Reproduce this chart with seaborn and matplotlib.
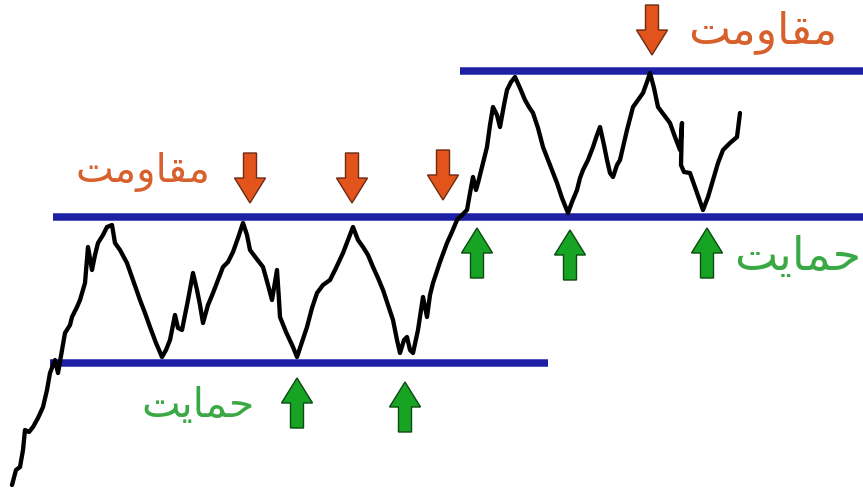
import matplotlib
matplotlib.use("Agg")
import matplotlib.pyplot as plt
import seaborn as sns
import pandas as pd

# Price path (time step, price) traced as a hand-drawn zigzag
time = [12, 16, 20, 23, 25, 29, 33, 38, 43, 47, 50, 55, 58, 62, 65, 70, 72, 77, 80, 85,
        88, 92, 95, 98, 103, 107, 112, 115, 120, 127, 133, 140, 145, 150, 156, 162, 166, 170, 175, 178,
        182, 188, 193, 197, 200, 203, 208, 213, 218, 223, 228, 233, 238, 243, 247, 250, 256, 263, 268, 272,
        277, 279, 280, 286, 293, 297, 302, 307, 312, 317, 323, 330, 336, 343, 348, 353, 358, 363, 368, 373,
        378, 383, 388, 393, 397, 400, 404, 407, 410, 413, 418, 423, 427, 430, 433, 440, 447, 452, 457, 462,
        467, 470, 473, 476, 478, 483, 487, 490, 493, 497, 500, 504, 507, 511, 515, 520, 525, 529, 533, 538,
        543, 550, 557, 562, 568, 572, 577, 580, 583, 588, 593, 597, 600, 604, 607, 610, 613, 617, 620, 627,
        633, 638, 643, 647, 650, 654, 658, 664, 670, 675, 680, 682, 681, 684, 690, 696, 703, 708, 713, 718,
        723, 730, 737, 740]
price = [7, 22, 25, 42, 62, 60, 65, 74, 85, 102, 119, 132, 119, 142, 159, 167, 175, 185, 192, 209,
         245, 222, 237, 249, 257, 265, 267, 249, 242, 229, 212, 192, 179, 165, 149, 135, 142, 152, 177, 164,
         162, 192, 219, 202, 187, 169, 187, 199, 212, 225, 230, 240, 254, 269, 257, 242, 234, 225, 207, 192,
         222, 192, 175, 160, 145, 135, 150, 165, 184, 199, 207, 212, 224, 239, 252, 265, 252, 245, 237, 225,
         214, 202, 187, 172, 152, 139, 152, 155, 142, 139, 162, 195, 175, 197, 209, 230, 249, 260, 272, 277,
         282, 299, 315, 302, 309, 329, 345, 367, 385, 377, 365, 387, 402, 410, 415, 404, 392, 385, 379, 364,
         345, 327, 309, 294, 279, 290, 302, 314, 322, 332, 345, 357, 365, 347, 332, 319, 315, 327, 332, 362,
         385, 392, 399, 410, 419, 404, 385, 377, 369, 355, 342, 369, 327, 320, 319, 302, 282, 295, 312, 329,
         342, 349, 355, 379]

# Horizontal support / resistance levels: (price, start, end)
level_price = [129, 275, 421]
level_start = [50, 53, 460]
level_end = [548, 863, 863]

# Touches of resistance (down arrows) and support (up arrows): x, arrow tip price
resist_x = [250, 352, 443, 652]
resist_tip = [289, 289, 292, 437]
support_x = [297, 405, 477, 570, 707]
support_tip = [114, 110, 264, 262, 264]

label_resist = "\uFE96\uFEE3\uFEED\uFE8E\uFED8\uFEE3"   # مقاومت
label_support = "\uFE96\uFEF3\uFE8E\uFEE4\uFEA3"         # حمایت

sns.set_theme(style="white")
plt.rcParams["font.family"] = ["DejaVu Sans"]

fig = plt.figure(figsize=(8.63, 4.92), dpi=100)
ax = fig.add_axes([0, 0, 1, 1])
ax.set_xlim(0, 863)
ax.set_ylim(0, 492)
ax.axis("off")

blue = "#1d20a4"
for p, x0, x1 in zip(level_price, level_start, level_end):
    ax.plot([x0, x1], [p, p], color=blue, lw=5.4, solid_capstyle="butt", zorder=2)

df = pd.DataFrame({"t": time, "price": price})
sns.lineplot(data=df, x="t", y="price", sort=False, color="black", lw=3.1,
             ax=ax, zorder=3)

orange_fill, orange_edge = "#e2541c", "#6e2a12"
green_fill, green_edge = "#17a324", "#0b4a10"
arrow_len = 50
arrow_kw = dict(width=13, head_width=31, head_length=25,
                length_includes_head=True, lw=1.0, zorder=4)
for x, tip in zip(resist_x, resist_tip):
    ax.arrow(x, tip + arrow_len, 0, -arrow_len, fc=orange_fill, ec=orange_edge, **arrow_kw)
for x, tip in zip(support_x, support_tip):
    ax.arrow(x, tip - arrow_len, 0, arrow_len, fc=green_fill, ec=green_edge, **arrow_kw)

txt_orange = "#d8602c"
txt_green = "#3aa845"
ax.text(210, 310, label_resist, color=txt_orange, fontsize=29, ha="right", va="baseline")
ax.text(837, 449, label_resist, color=txt_orange, fontsize=32, ha="right", va="baseline")
ax.text(861, 222, label_support, color=txt_green, fontsize=33, ha="right", va="baseline")
ax.text(255, 75, label_support, color=txt_green, fontsize=29.5, ha="right", va="baseline")

fig.savefig("out.png", dpi=100, facecolor="white")
